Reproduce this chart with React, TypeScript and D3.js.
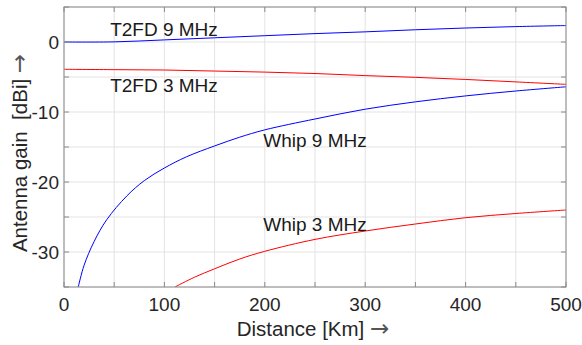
import React from 'react';
import * as d3 from 'd3';

// distance [km] / gain [dBi]
const t2fd9Km = [0, 50, 100, 150, 200, 250, 300, 350, 400, 450, 500];
const t2fd9Gain = [0, 0.02, 0.3, 0.6, 0.9, 1.2, 1.45, 1.75, 2.0, 2.2, 2.35];

const t2fd3Km = [0, 50, 100, 150, 200, 250, 300, 350, 400, 450, 500];
const t2fd3Gain = [-3.9, -3.95, -4.0, -4.15, -4.3, -4.5, -4.8, -5.05, -5.35, -5.7, -6.05];

const whip9Km = [14.2, 20, 30, 42.5, 62.5, 80, 100, 122, 150, 175, 200, 250, 300, 350, 400, 450, 500];
const whip9Gain = [-35, -31.9, -28.5, -25.4, -22.0, -19.8, -18.0, -16.4, -14.85, -13.6, -12.55, -11.0, -9.6, -8.55, -7.7, -7.0, -6.4];

const whip3Km = [110.5, 130, 150, 175, 200, 250, 300, 350, 400, 450, 500];
const whip3Gain = [-35, -33.6, -32.4, -31.0, -29.9, -28.2, -27.0, -26.0, -25.1, -24.5, -24.0];

const seriesNames = ['T2FD 9 MHz', 'T2FD 3 MHz', 'Whip 9 MHz', 'Whip 3 MHz'];
const seriesColors = ['#0000ff', '#ff0000', '#0000ff', '#ff0000'];
// label anchor (km, dBi) for each series
const labelKm = [46, 46, 198.5, 198.5];
const labelGain = [0.9, -7.2, -15.0, -27.0];

const xTicks = [0, 100, 200, 300, 400, 500];
const xGrid = [0, 50, 100, 150, 200, 250, 300, 350, 400, 450, 500];
const yTicks = [0, -10, -20, -30];
const yGrid = [5, 0, -5, -10, -15, -20, -25, -30, -35];

const W = 582, H = 345;
const font = '"Liberation Sans", Arial, Helvetica, sans-serif';

export default function App() {
  const x = d3.scaleLinear().domain([0, 500]).range([64, 566]);
  const y = d3.scaleLinear().domain([-35, 5]).range([287, 7]);

  const series = [
    { km: t2fd9Km, g: t2fd9Gain },
    { km: t2fd3Km, g: t2fd3Gain },
    { km: whip9Km, g: whip9Gain },
    { km: whip3Km, g: whip3Gain },
  ];

  const line = d3.line<[number, number]>()
    .x(d => x(d[0]))
    .y(d => y(d[1]))
    .curve(d3.curveCatmullRom.alpha(0.5));

  const [x0, x1] = x.range();
  const [y0, y1] = y.range();
  const axisColor = '#8a8a8a';
  const tick = 5;

  return (
    <svg width={W} height={H} style={{ position: 'absolute', left: 0, top: 0, background: '#fff' }}
      fontFamily={font}>
      <defs>
        <clipPath id="plot">
          <rect x={x0} y={y1} width={x1 - x0} height={y0 - y1} />
        </clipPath>
      </defs>

      {/* grid */}
      {xGrid.map(v => (
        <line key={'gx' + v} x1={x(v)} x2={x(v)} y1={y1} y2={y0} stroke="#e3e3e3" strokeWidth={1} />
      ))}
      {yGrid.map(v => (
        <line key={'gy' + v} x1={x0} x2={x1} y1={y(v)} y2={y(v)} stroke="#e3e3e3" strokeWidth={1} />
      ))}

      {/* curves */}
      <g clipPath="url(#plot)">
        {series.map((s, i) => (
          <path key={i} d={line(s.km.map((k, j) => [k, s.g[j]] as [number, number])) || ''}
            fill="none" stroke={seriesColors[i]} strokeWidth={1} />
        ))}
      </g>

      {/* box + inner ticks */}
      <rect x={x0} y={y1} width={x1 - x0} height={y0 - y1} fill="none" stroke={axisColor} strokeWidth={1} />
      {xGrid.map(v => (
        <g key={'tx' + v} stroke={axisColor}>
          <line x1={x(v)} x2={x(v)} y1={y0} y2={y0 - tick} />
          <line x1={x(v)} x2={x(v)} y1={y1} y2={y1 + tick} />
        </g>
      ))}
      {yGrid.map(v => (
        <g key={'ty' + v} stroke={axisColor}>
          <line x1={x0} x2={x0 + tick} y1={y(v)} y2={y(v)} />
          <line x1={x1} x2={x1 - tick} y1={y(v)} y2={y(v)} />
        </g>
      ))}

      {/* tick labels */}
      {xTicks.map(v => (
        <text key={'lx' + v} x={x(v)} y={311} textAnchor="middle" fontSize={19} fill="#262626">{v}</text>
      ))}
      {yTicks.map(v => (
        <text key={'ly' + v} x={59} y={y(v)} dy="0.35em" textAnchor="end" fontSize={19} fill="#262626">{v}</text>
      ))}

      {/* series labels */}
      {seriesNames.map((n, i) => (
        <text key={n} x={x(labelKm[i])} y={y(labelGain[i])} fontSize={19} fill="#1a1a1a">{n}</text>
      ))}

      {/* axis titles */}
      <text x={313} y={336} textAnchor="middle" fontSize={20.5} fill="#262626" style={{ whiteSpace: 'pre' }}>
        {'Distance [Km] '}
        <tspan fontFamily='"DejaVu Sans", sans-serif' fontSize={23} fill="#555">→</tspan>
      </text>
      <text transform="translate(27,153) rotate(-90)" textAnchor="middle" fontSize={20.5} fill="#262626"
        style={{ whiteSpace: 'pre' }}>
        {'Antenna gain  [dBi] '}
        <tspan fontFamily='"DejaVu Sans", sans-serif' fontSize={23} fill="#555">→</tspan>
      </text>
    </svg>
  );
}
